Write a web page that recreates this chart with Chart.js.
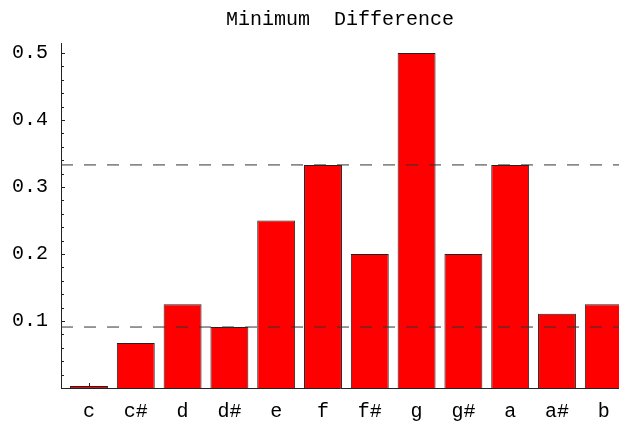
<!DOCTYPE html>
<html>
<head>
<meta charset="utf-8">
<script src="https://cdn.jsdelivr.net/npm/chart.js@4/dist/chart.umd.min.js"></script>
<style>
  html, body { margin: 0; padding: 0; background: #fff; }
  #c { display: block; }
</style>
</head>
<body>
<canvas id="c" width="619" height="421"></canvas>
<script>
// Pitch classes along the x axis
const notes = ['c', 'c#', 'd', 'd#', 'e', 'f', 'f#', 'g', 'g#', 'a', 'a#', 'b'];
// Minimum difference for each pitch class
const minDiff = [0, 0.067, 0.125, 0.091, 0.25, 0.333, 0.2, 0.5, 0.2, 0.333, 0.111, 0.125];
// Horizontal dashed reference levels
const refLevels = [0.333, 0.091];
// Labelled y ticks
const yTickValues = [0.1, 0.2, 0.3, 0.4, 0.5];
const yTickLabels = ['0.1', '0.2', '0.3', '0.4', '0.5'];

const X_MIN = -0.598, X_MAX = 11.325;
const Y_MAX = 0.515;
const FONT = { family: "'Liberation Mono', 'DejaVu Sans Mono', monospace", size: 20 };

const barData = minDiff.map((v, i) => ({ x: i, y: v }));
const refDatasets = refLevels.map(level => ({
  type: 'line',
  data: [{ x: X_MIN, y: level }, { x: X_MAX, y: level }],
  borderColor: '#333',
  borderWidth: 1,
  borderDash: [12, 11],
  pointRadius: 0,
  fill: false,
  order: 1
}));

// Inward-pointing tick marks on both axes
const axisTicks = {
  id: 'axisTicks',
  beforeDatasetsDraw(chart) {
    const { ctx, chartArea, scales } = chart;
    const x = scales.x, y = scales.y;
    ctx.save();
    ctx.strokeStyle = '#222';
    ctx.lineWidth = 1;
    ctx.beginPath();
    for (let k = 1; k <= 25; k++) {
      const v = k * 0.02;
      const py = Math.round(y.getPixelForValue(v)) + 0.5;
      const len = (k % 5 === 0) ? 4 : 3;
      ctx.moveTo(chartArea.left, py);
      ctx.lineTo(chartArea.left + len, py);
    }
    notes.forEach((n, i) => {
      const px = Math.round(x.getPixelForValue(i)) + 0.5;
      ctx.moveTo(px, chartArea.bottom);
      ctx.lineTo(px, chartArea.bottom - 5);
    });
    ctx.stroke();
    ctx.restore();
  }
};

// Keep the plot area flush with the canvas edges
function noScalePadding(scale) {
  scale.paddingLeft = 0;
  scale.paddingRight = 0;
  scale.paddingTop = 0;
  scale.paddingBottom = 0;
}

new Chart(document.getElementById('c'), {
  type: 'bar',
  data: {
    datasets: [
      {
        type: 'bar',
        data: barData,
        backgroundColor: '#ff0000',
        borderColor: '#222',
        borderWidth: 1,
        categoryPercentage: 1,
        barPercentage: 0.81,
        minBarLength: 2,
        order: 2
      },
      ...refDatasets
    ]
  },
  plugins: [axisTicks],
  options: {
    responsive: false,
    devicePixelRatio: 1,
    animation: false,
    layout: { padding: 0 },
    plugins: {
      legend: { display: false },
      tooltip: { enabled: false },
      title: {
        display: true,
        text: 'Minimum  Difference',
        fullSize: false,
        color: '#000',
        font: { ...FONT, weight: 'normal' },
        padding: { top: 8, bottom: 11 }
      }
    },
    scales: {
      x: {
        type: 'linear',
        min: X_MIN,
        max: X_MAX,
        offset: false,
        grid: { display: false, drawTicks: false },
        border: { display: true, color: '#222', width: 1 },
        afterBuildTicks(scale) { scale.ticks = notes.map((n, i) => ({ value: i })); },
        afterFit(scale) { scale.height = 33; noScalePadding(scale); },
        ticks: {
          color: '#000',
          font: FONT,
          padding: 12,
          maxRotation: 0,
          autoSkip: false,
          callback: (v) => notes[v]
        }
      },
      y: {
        type: 'linear',
        min: 0,
        max: Y_MAX,
        grid: { display: false, drawTicks: false },
        border: { display: true, color: '#222', width: 1 },
        afterBuildTicks(scale) { scale.ticks = yTickValues.map(v => ({ value: v })); },
        afterFit(scale) { scale.width = 61; noScalePadding(scale); },
        ticks: {
          color: '#000',
          font: FONT,
          padding: 13,
          autoSkip: false,
          callback: (v) => yTickLabels[yTickValues.indexOf(v)]
        }
      }
    }
  }
});
</script>
</body>
</html>
